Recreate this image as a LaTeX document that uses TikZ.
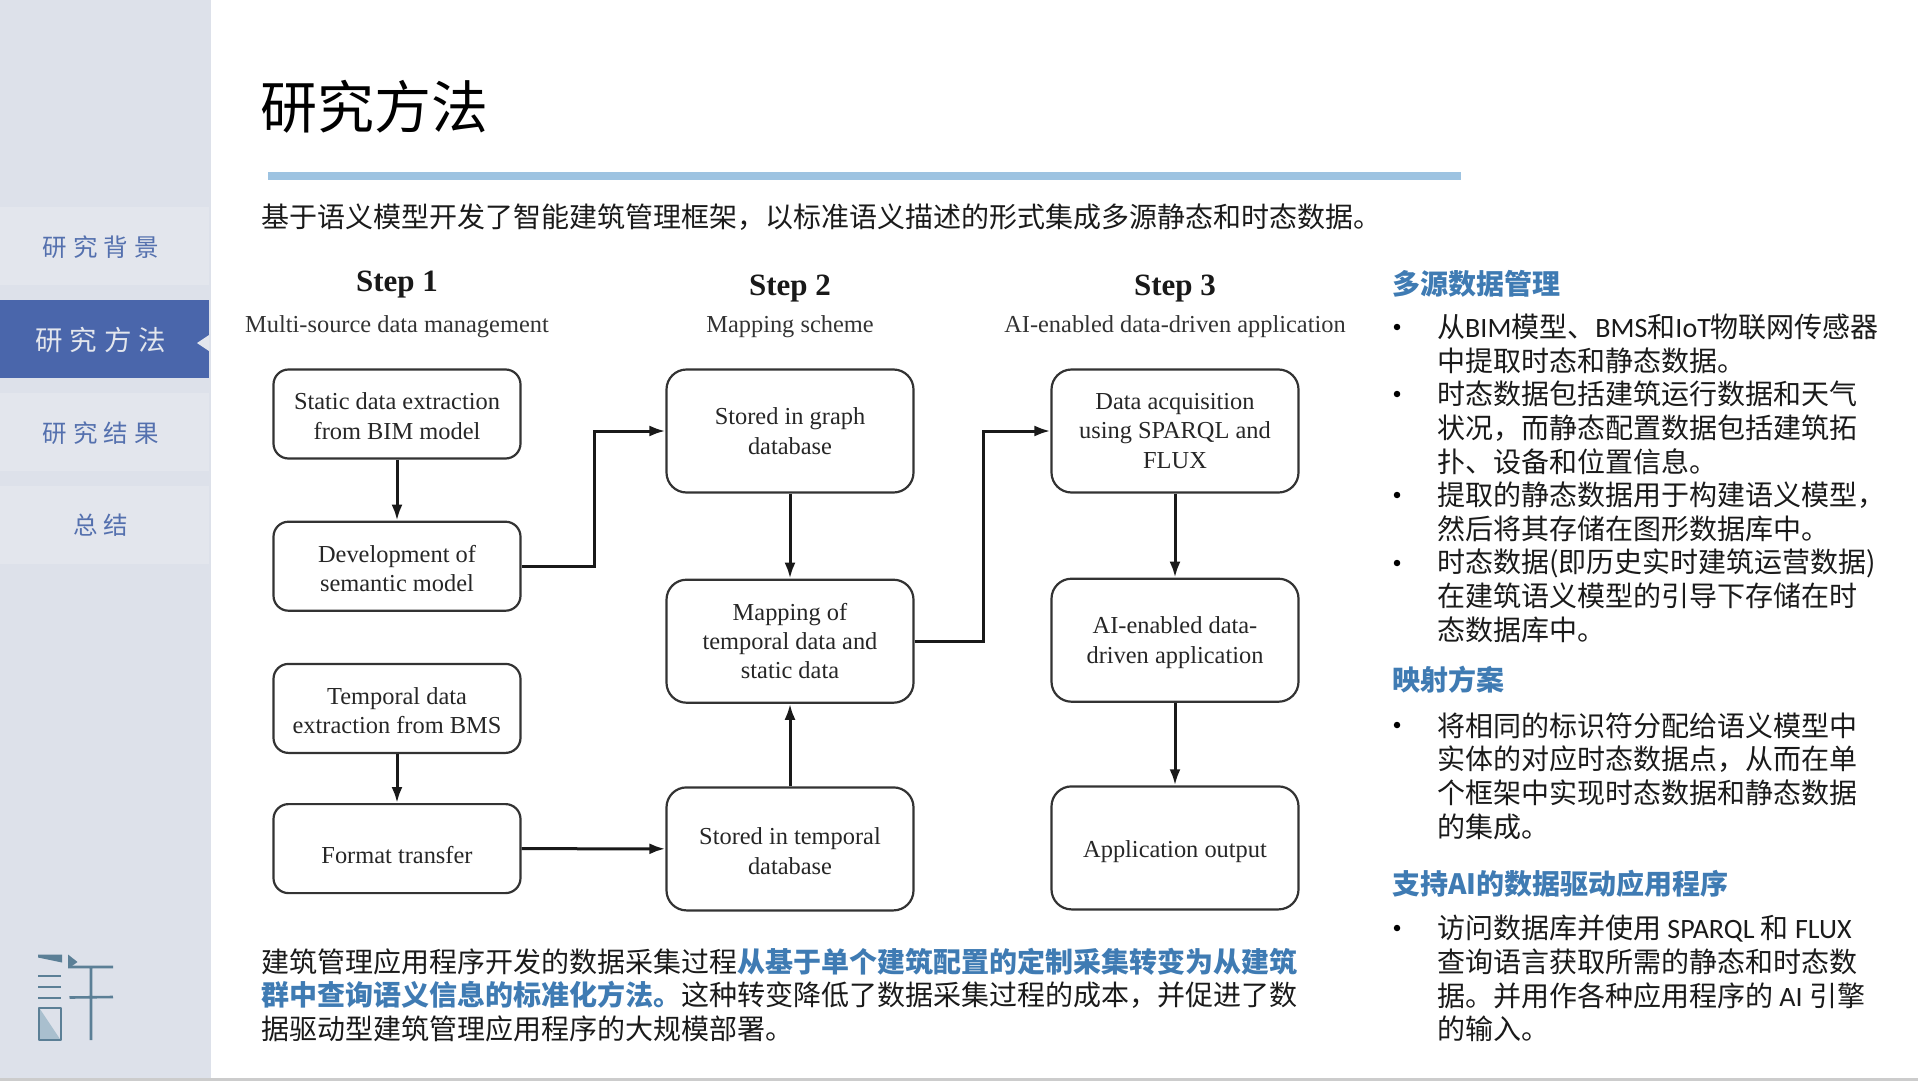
\documentclass[tikz,border=0pt]{standalone}
\usepackage{fontspec}
\setmainfont{Noto Sans CJK SC}
\newfontfamily\figfont{Liberation Serif}
\newfontfamily\navfont[LetterSpace=24]{Noto Sans CJK SC}
\newfontfamily\latfont{Carlito}
\usepackage{xcolor}
\usetikzlibrary{arrows.meta,positioning,calc}
\definecolor{sidebg}{HTML}{DDE1EA}
\definecolor{sideitem}{HTML}{E3E6ED}
\definecolor{sideact}{HTML}{4A66AB}
\definecolor{navtext}{HTML}{5470AE}
\definecolor{headblue}{HTML}{3F7BB3}
\definecolor{rulefill}{HTML}{9DC3E1}
\definecolor{logoblue}{HTML}{5B7F96}
\definecolor{logopale}{HTML}{A9BFCE}
\definecolor{bodyink}{HTML}{1A1A1A}
\newcommand{\liftto}[1]{\rule{0pt}{#1pt}}
\begin{document}
\begin{tikzpicture}[
  x=1pt,y=-1pt,>={Latex[length=16pt,width=11pt]},
  navitem/.style={fill=sideitem,minimum width=209pt,minimum height=78pt,inner sep=0pt,outer sep=0pt,text=navtext,anchor=west,text height=23pt,text depth=3pt,execute at end node=\hspace{7.4pt},font=\navfont\fontsize{24.5}{28}\selectfont},
  navact/.style={navitem,fill=sideact,text=sideitem,text height=26pt,text depth=3.2pt,font=\navfont\fontsize{27.5}{30}\selectfont},
  para/.style={anchor=north west,align=left,inner sep=0pt,text=bodyink,font=\fontsize{28}{33.6}\selectfont},
  head/.style={anchor=west,inner sep=0pt,text=headblue,font=\bfseries\fontsize{28}{33}\selectfont},
  dot/.style={circle,fill=black,inner sep=0pt,minimum size=6.5pt},
  stepname/.style={inner sep=0pt,text=black!90,font=\figfont\bfseries\fontsize{31}{34}\selectfont},
  stepsub/.style={inner sep=0pt,text=black!80,font=\figfont\fontsize{24.4}{28}\selectfont},
  box/.style={draw=black!80,line width=2.2pt,rounded corners=15pt,align=center,inner sep=0pt,text=black!85,minimum width=247pt,font=\figfont\fontsize{24.4}{29.3}\selectfont},
  tallbox/.style={box,rounded corners=20pt,minimum height=123pt},
  flow/.style={->,line width=3pt,black!90},
  logo/.style={line width=2.6pt,logoblue}]
\useasboundingbox (0,0) rectangle (1918,1081);
\fill[sidebg] (0,0) rectangle (211,1081);
\fill[black!20] (0,1078) rectangle (1918,1081);
\node[navitem] (nav1) at (0,246) {研究背景};
\node[navact] (nav2) at (0,339) {研究方法};
\node[navitem] (nav3) at (0,432) {研究结果};
\node[navitem] (nav4) at (0,524.5) {总结};
\fill[sideitem] ($(nav2.east)+(-12,4)$) -- ++(12,-8) -- ++(0,16) -- cycle;
% logo
\fill[logoblue] (38,954.5) -- (62,954.5) -- (62,962.5) -- (38,957.5) -- cycle;
\draw[logo] (38,976) -- (61,976) (38,987) -- (61,987) (38,998) -- (61,998);
\fill[logopale] (40,1009) -- (60,1039) -- (40,1039) -- cycle;
\draw[logo,line join=round] (39,1008) rectangle (61,1040);
\fill[logoblue] (68,954.5) -- (77.5,962) -- (72,966) -- (68,967) -- cycle;
\draw[logo] (68,967) -- (113,967) (91,967) -- (91,1040) (69.5,997.5) -- (113,997);
% header
\node[anchor=west,inner sep=0pt,text=black,font=\fontsize{57}{60}\selectfont] (title) at (260,107) {研究方法};
\fill[rulefill] (268,172) rectangle (1461,180);
\node[anchor=west,inner sep=0pt,text=bodyink,font=\fontsize{28}{33}\selectfont] (intro) at (261,217) {基于语义模型开发了智能建筑管理框架，以标准语义描述的形式集成多源静态和时态数据。};
% step columns
\node[stepname] (s1) at (397,284.5) {Step 1};
\node[stepname] (s2) at (790,288.5) {Step 2};
\node[stepname] (s3) at (1175,288.5) {Step 3};
\node[stepsub] (m1) at (397,326.5) {Multi-source data management};
\node[stepsub] (m2) at (790,326.5) {Mapping scheme};
\node[stepsub] (m3) at (1175,326.5) {AI-enabled data-driven application};
\node[box,minimum height=89pt] (a) at (397,414) {\liftto{21.5}Static data extraction\\from BIM model};
\node[box,minimum height=89pt,below=61pt of a] (b) {\liftto{21.5}Development of\\semantic model};
\node[box,minimum height=89pt,below=51pt of b] (c) {\liftto{21.5}Temporal data\\extraction from BMS};
\node[box,minimum height=89pt,below=49pt of c] (d) {\liftto{30}Format transfer};
\node[tallbox] (e) at (790,431) {Stored in graph\\database};
\node[tallbox,below=85pt of e] (f) {Mapping of\\temporal data and\\static data};
\node[tallbox,below=82.5pt of f] (g) {\liftto{21.5}Stored in temporal\\database};
\node[tallbox] (h) at (1175,431) {Data acquisition\\using SPARQL and\\FLUX};
\node[tallbox,below=84pt of h] (i) {\liftto{21.5}AI-enabled data-\\driven application};
\node[tallbox,below=82.5pt of i] (j) {\liftto{25}Application output};
\draw[flow](a)--(b); \draw[flow](c)--(d);
\draw[flow](e)--(f); \draw[flow](g)--(f);
\draw[flow](h)--(i); \draw[flow](i)--(j);
\draw[flow](d)--(g);
\draw[flow](b.east) -- ++(73,0) |- (e.west);
\draw[flow](f.east) -- ++(69,0) |- (h.west);
% closing paragraph
\node[para] (closing) at (261,947.5) {建筑管理应用程序开发的数据采集过程\textcolor{headblue}{\bfseries 从基于单个建筑配置的定制采集转变为从建筑}\\\textcolor{headblue}{\bfseries 群中查询语义信息的标准化方法。}这种转变降低了数据采集过程的成本，并促进了数\\据驱动型建筑管理应用程序的大规模部署。};
% right column
\node[head] (h1) at (1392,284) {多源数据管理};
\node[para] (p1) at (1437,314) {从{\latfont BIM}模型、{\latfont BMS}和{\latfont IoT}物联网传感器\\中提取时态和静态数据。};
\node[para] (p2) at (1437,381) {时态数据包括建筑运行数据和天气\\状况，而静态配置数据包括建筑拓\\扑、设备和位置信息。};
\node[para] (p3) at (1437,482) {提取的静态数据用于构建语义模型，\\然后将其存储在图形数据库中。};
\node[para] (p4) at (1437,549) {时态数据(即历史实时建筑运营数据)\\在建筑语义模型的引导下存储在时\\态数据库中。};
\node[head] (h2) at (1392,680) {映射方案};
\node[para] (p5) at (1437,712.5) {将相同的标识符分配给语义模型中\\实体的对应时态数据点，从而在单\\个框架中实现时态数据和静态数据\\的集成。};
\node[head] (h3) at (1392,884) {支持AI的数据驱动应用程序};
\node[para] (p6) at (1437,915) {访问数据库并使用 {\latfont SPARQL} 和 {\latfont FLUX}\\查询语言获取所需的静态和时态数\\据。并用作各种应用程序的 {\latfont AI} 引擎\\的输入。};
\foreach \py in {327,394,495,563,725,928}
  \node[dot] at (1397,\py) {};
\end{tikzpicture}
\end{document}
